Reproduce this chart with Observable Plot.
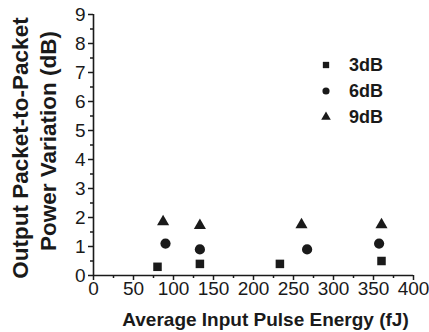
<!DOCTYPE html>
<html><head><meta charset="utf-8">
<script src="https://cdn.jsdelivr.net/npm/d3@7"></script>
<script src="https://cdn.jsdelivr.net/npm/@observablehq/plot@0.6"></script>
<style>
body{margin:0;background:#fff}
#wrap{position:relative;width:429px;height:332px}
#legend{position:absolute;left:318px;top:52px;font-family:"Liberation Sans",Arial,sans-serif;font-weight:bold;font-size:18px;color:#1a1a1a}
.row{display:flex;align-items:center;height:26px}
.row svg{width:16px;height:16px;margin-right:15px}
</style>
</head><body><div id="wrap"><div id="legend"></div></div>
<script>
const series = ["3dB", "6dB", "9dB"];
const symbols = ["square", "circle", "triangle"];
const energy3 = [80, 133, 233, 360];
const var3 = [0.3, 0.4, 0.4, 0.5];
const energy6 = [90, 133, 267, 357];
const var6 = [1.1, 0.9, 0.9, 1.1];
const energy9 = [87, 133, 260, 360];
const var9 = [1.85, 1.72, 1.75, 1.75];
const xTicks = [0, 50, 100, 150, 200, 250, 300, 350, 400];
const xMinor = [25, 75, 125, 175, 225, 275, 325, 375];
const yTicks = [0, 1, 2, 3, 4, 5, 6, 7, 8, 9];
const yMinor = [0.5, 1.5, 2.5, 3.5, 4.5, 5.5, 6.5, 7.5, 8.5];
const xLabel = "Average Input Pulse Energy (fJ)";
const yLabel1 = "Output Packet-to-Packet";
const yLabel2 = "Power Variation (dB)";

const toRows = (xs, ys) => xs.map((x, i) => ({x, y: ys[i]}));
const data = [toRows(energy3, var3), toRows(energy6, var6), toRows(energy9, var9)];
const radii = [4.8, 5.1, 4.5];
const font = "'Liberation Sans', Arial, sans-serif";
const ink = "#1a1a1a";

const plot = Plot.plot({
  width: 429, height: 332,
  marginLeft: 93, marginRight: 16, marginTop: 14, marginBottom: 57,
  style: {fontFamily: font, fontSize: "19px", color: ink, background: "white", overflow: "visible"},
  x: {domain: [0, 400]},
  y: {domain: [0, 9]},
  marks: [
    Plot.axisX({ticks: xTicks, tickSize: 5, tickPadding: 1, label: null, strokeWidth: 1.5, fill: ink, fontSize: 19}),
    Plot.axisX({ticks: xMinor, tickSize: 3, tickFormat: () => "", label: null, strokeWidth: 1.5}),
    Plot.axisY({ticks: yTicks, tickSize: 5, tickPadding: 3, label: null, strokeWidth: 1.5, fill: ink, fontSize: 19}),
    Plot.axisY({ticks: yMinor, tickSize: 3, tickFormat: () => "", label: null, strokeWidth: 1.5}),
    Plot.ruleY([0], {stroke: ink, strokeWidth: 1.6}),
    Plot.ruleX([0], {stroke: ink, strokeWidth: 1.6}),
    ...data.map((d, i) => Plot.dot(d, {x: "x", y: "y", symbol: () => symbols[i], r: radii[i], fill: ink, stroke: "none"})),
    Plot.text([xLabel], {frameAnchor: "bottom", textAnchor: "middle", dy: 44, dx: 12, fontWeight: "bold", fontSize: 19, fill: ink, lineAnchor: "middle"}),
    Plot.text([yLabel1], {frameAnchor: "left", textAnchor: "middle", dx: -73, dy: 3, rotate: -90, fontWeight: "bold", fontSize: 22.5, fill: ink, lineAnchor: "middle"}),
    Plot.text([yLabel2], {frameAnchor: "left", textAnchor: "middle", dx: -45, dy: -4, rotate: -90, fontWeight: "bold", fontSize: 22.5, fill: ink, lineAnchor: "middle"})
  ]
});
const wrap = document.getElementById("wrap");
wrap.insertBefore(plot, wrap.firstChild);

const legend = d3.select("#legend");
const symMap = {square: d3.symbolSquare, circle: d3.symbolCircle, triangle: d3.symbolTriangle};
series.forEach((s, i) => {
  const row = legend.append("div").attr("class", "row");
  const svg = row.append("svg").attr("viewBox", "-8 -8 16 16");
  svg.append("path").attr("d", d3.symbol(symMap[symbols[i]], 40)()).attr("fill", ink);
  row.append("span").text(s);
});
</script>
</body></html>
